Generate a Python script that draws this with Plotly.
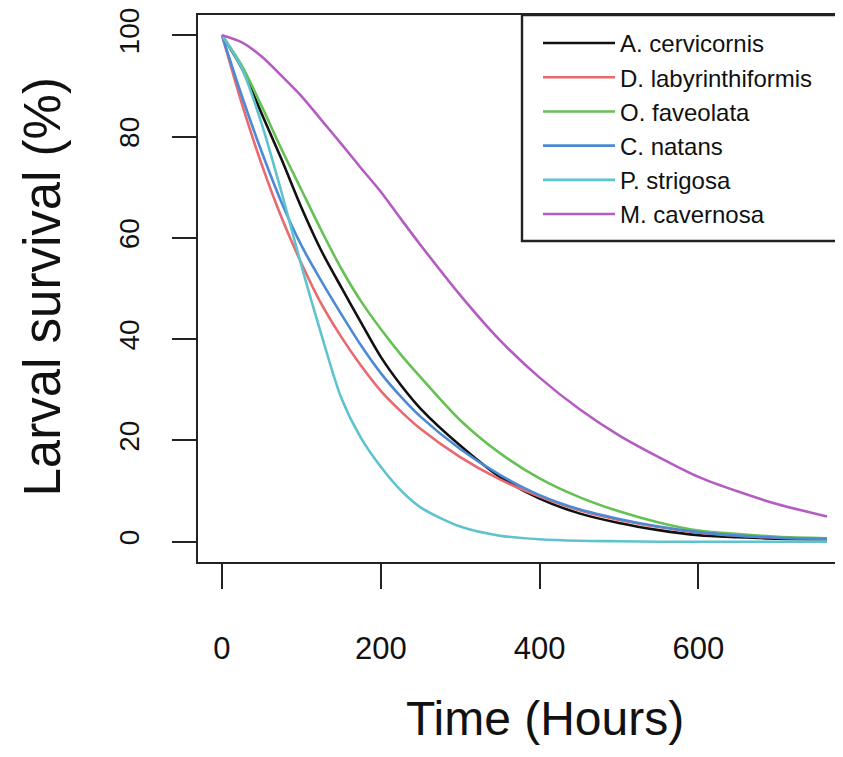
import plotly.graph_objects as go

# Time (hours) at which the curves were read
hours = [0, 25, 50, 75, 100, 125, 150, 175, 200, 225, 250, 300, 350, 400, 450, 500, 550, 600, 650, 700, 762]

a_cervicornis = [100, 93.5, 84.5, 75.5, 66, 57.5, 50.3, 43.3, 36.5, 31.0, 26.3, 19.0, 12.8, 8.5, 5.6, 3.7, 2.3, 1.3, 0.9, 0.6, 0.5]
d_labyrinthiformis = [100, 86.5, 74.5, 64, 55, 47, 40.5, 34.8, 29.8, 25.8, 22.3, 16.7, 12.3, 8.9, 6.2, 4.3, 2.9, 1.8, 1.2, 0.8, 0.6]
o_faveolata = [100, 94, 86, 77.5, 69.5, 61.5, 54, 47.5, 42, 37, 32.5, 24, 17.5, 12.5, 8.8, 6.0, 3.8, 2.2, 1.5, 1.0, 0.7]
c_natans = [100, 88, 77, 67, 58.5, 51.5, 45, 38.8, 33.3, 28.7, 24.7, 18.3, 13.2, 9.2, 6.4, 4.5, 3.0, 1.9, 1.2, 0.8, 0.6]
p_strigosa = [100, 93.5, 82.5, 69, 54.5, 41, 28.5, 20.5, 14.8, 10.2, 6.8, 3.0, 1.2, 0.5, 0.2, 0.1, 0.0, 0.0, 0.0, 0.0, 0.0]
m_cavernosa = [100, 98.6, 95.8, 92.0, 88, 83.3, 78.6, 73.8, 69.1, 63.8, 58.6, 48.7, 39.8, 32.4, 26.2, 21, 16.7, 12.8, 9.9, 7.4, 5.0]

species = ["A. cervicornis", "D. labyrinthiformis", "O. faveolata", "C. natans", "P. strigosa", "M. cavernosa"]
series = [a_cervicornis, d_labyrinthiformis, o_faveolata, c_natans, p_strigosa, m_cavernosa]
colors = ["#111111", "#E8696E", "#66C154", "#4C8AD6", "#5EC3CF", "#B45CC2"]

x_ticks = [0, 200, 400, 600]
y_ticks = [0, 20, 40, 60, 80, 100]

FONT = "Liberation Sans, Arial, Helvetica, sans-serif"

fig = go.Figure()
for name, vals, col in zip(species, series, colors):
    fig.add_trace(go.Scatter(
        x=hours, y=vals, name=name, mode="lines",
        line=dict(color=col, width=2.6, shape="spline", smoothing=0.8),
    ))

# the page adds an 8px body margin, so figure px = page px - 8
W, H = 843, 757
L, T, B = 190, 2, 203
plot_w = W - L
plot_h = H - T - B


def px(xp):
    return (xp - 8 - L) / plot_w


def py(yp):
    return 1 - (yp - 8 - T) / plot_h


fig.update_layout(
    width=W, height=H,
    margin=dict(l=L, r=0, t=T, b=B, pad=0),
    paper_bgcolor="white", plot_bgcolor="white",
    font=dict(family=FONT, color="#111111"),
    showlegend=True,
    legend=dict(
        x=px(538), y=py(16),
        xanchor="left", yanchor="top",
        bgcolor="rgba(0,0,0,0)", borderwidth=0,
        font=dict(size=24, family=FONT, color="#111111"),
        itemwidth=72, tracegroupgap=0,
    ),
    xaxis=dict(
        range=[-30.2, -30.2 + plot_w / 0.794],
        tickmode="array", tickvals=x_ticks, ticktext=[str(v) for v in x_ticks],
        ticks="outside", ticklen=25, tickwidth=2.2, tickcolor="#222222",
        showline=True, linewidth=2.4, linecolor="#222222", mirror=True,
        showgrid=False, zeroline=False,
        tickfont=dict(size=31, family=FONT, color="#111111"),
        ticklabelstandoff=33,
    ),
    yaxis=dict(
        range=[-4, 104],
        tickmode="array", tickvals=y_ticks, ticktext=[str(v) for v in y_ticks],
        ticks="outside", ticklen=24, tickwidth=2.2, tickcolor="#222222",
        showline=True, linewidth=2.4, linecolor="#222222", mirror=False,
        showgrid=False, zeroline=False,
        tickangle=-90, ticklabeloverflow="allow",
        tickfont=dict(size=28, family=FONT, color="#111111"),
        ticklabelstandoff=22,
    ),
    shapes=[
        dict(type="rect", xref="paper", yref="paper",
             x0=px(522), x1=1.05, y0=py(238), y1=1.0,
             line=dict(color="#222222", width=2.4), fillcolor="white", layer="below"),
    ],
    annotations=[
        dict(text="Time (Hours)", xref="paper", yref="paper",
             x=px(545), y=py(720),
             xanchor="center", yanchor="middle", showarrow=False,
             font=dict(size=48, family=FONT, color="#111111")),
        dict(text="Larval survival (%)", xref="paper", yref="paper",
             x=px(43), y=py(285),
             xanchor="center", yanchor="middle", showarrow=False, textangle=-90,
             font=dict(size=51, family=FONT, color="#111111")),
    ],
)

fig.write_html("out.html")
